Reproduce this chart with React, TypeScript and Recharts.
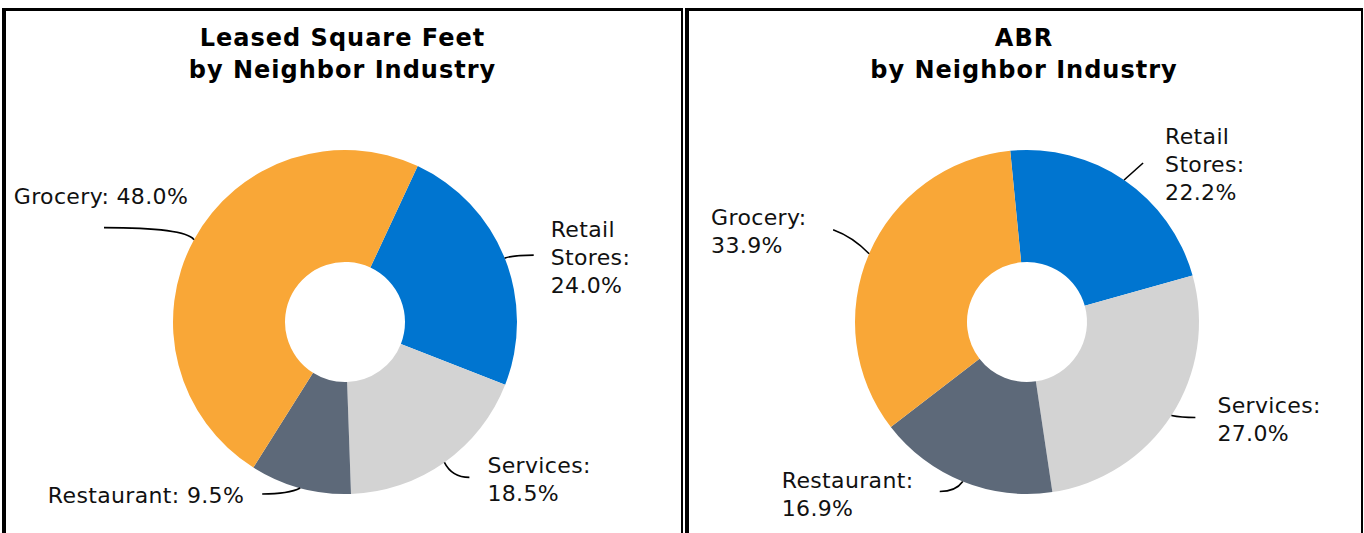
import { PieChart, Pie, Cell } from 'recharts';

// Chart data
const categories = ['Retail Stores', 'Services', 'Restaurant', 'Grocery'];
const leasedSqFtPct = [24.0, 18.5, 9.5, 48.0];
const abrPct = [22.2, 27.0, 16.9, 33.9];
const titlesLeft = ['Leased Square Feet', 'by Neighbor Industry'];
const titlesRight = ['ABR', 'by Neighbor Industry'];

const COLORS = ['#0075D0', '#D3D3D3', '#5D6979', '#F9A737'];
const RADIAN = Math.PI / 180;
const FONT = '"DejaVu Sans", Verdana, sans-serif';

type LabelLayout = {
  leader: [number, number]; // leader end, relative to slice edge
  text: [number, number]; // text block anchor, relative to leader end
  anchor: 'start' | 'middle' | 'end';
  rows: number[]; // how many tokens per text row
  bend: number; // 0.5 = straight leader
};

// label placement (best-fit positions as in the original)
const leftLayout: LabelLayout[] = [
  { leader: [29, -3], text: [17, 2], anchor: 'start', rows: [1, 1, 1], bend: 0.3 },
  { leader: [25, 15], text: [18, 2], anchor: 'start', rows: [1, 1], bend: 0.3 },
  { leader: [-38, 6], text: [-18, 1], anchor: 'end', rows: [2], bend: 0.3 },
  { leader: [-90, -12], text: [-3, -31], anchor: 'middle', rows: [2], bend: 0.1 },
];
const rightLayout: LabelLayout[] = [
  { leader: [19, -17], text: [22, 1], anchor: 'start', rows: [1, 1, 1], bend: 0.5 },
  { leader: [24, 2], text: [22, 2], anchor: 'start', rows: [1, 1], bend: 0.4 },
  { leader: [-23, 10], text: [-158, 3], anchor: 'start', rows: [1, 1], bend: 0.3 },
  { leader: [-36, -24], text: [-122, 2], anchor: 'start', rows: [1, 1], bend: 0.45 },
];

const LINE_H = 28;

function makeLabel(layout: LabelLayout[]) {
  return (props: any) => {
    const { cx, cy, midAngle, outerRadius, index, name, value } = props;
    const cfg = layout[index];
    const sx = cx + outerRadius * Math.cos(-midAngle * RADIAN);
    const sy = cy + outerRadius * Math.sin(-midAngle * RADIAN);
    const ex = sx + cfg.leader[0];
    const ey = sy + cfg.leader[1];
    const qx = sx + (ex - sx) * cfg.bend;
    const qy = cfg.bend === 0.5 ? (sy + ey) / 2 : ey - (ey - sy) * (cfg.bend > 0.4 ? 0.3 : 0);

    const words = String(name).split(' ');
    words[words.length - 1] += ':';
    const tokens = [...words, `${Number(value).toFixed(1)}%`];
    const lines: string[] = [];
    let k = 0;
    cfg.rows.forEach((n) => {
      lines.push(tokens.slice(k, k + n).join(' '));
      k += n;
    });
    if (k < tokens.length) lines[lines.length - 1] += ' ' + tokens.slice(k).join(' ');

    const tx = ex + cfg.text[0];
    const ty0 = ey + cfg.text[1] - ((lines.length - 1) * LINE_H) / 2;

    return (
      <g>
        <path d={`M${sx},${sy} Q${qx},${qy} ${ex},${ey}`} stroke="#000" strokeWidth={1.6} fill="none" />
        {lines.map((l, i) => (
          <text
            key={i}
            x={tx}
            y={ty0 + i * LINE_H}
            textAnchor={cfg.anchor}
            dominantBaseline="central"
            fontFamily={FONT}
            fontSize={22}
            letterSpacing={0.35}
            fill="#111"
          >
            {l}
          </text>
        ))}
      </g>
    );
  };
}

function Panel(props: {
  left: number;
  width: number;
  titles: string[];
  values: number[];
  layout: LabelLayout[];
  cx: number;
  startAngle: number;
}) {
  const data = categories.map((c, i) => ({ name: c, value: props.values[i] }));
  return (
    <>
      <div
        style={{
          position: 'absolute',
          left: props.left,
          top: 8,
          width: props.width,
          height: 525,
          boxSizing: 'border-box',
          borderLeft: '4px solid #000',
          borderTop: '3px solid #000',
          borderRight: '2px solid #000',
        }}
      />
      <div
        style={{
          position: 'absolute',
          left: props.left,
          top: 22,
          width: props.width,
          textAlign: 'center',
          fontFamily: FONT,
          fontWeight: 'bold',
          fontSize: 24,
          letterSpacing: 1,
          lineHeight: '32px',
          color: '#000',
        }}
      >
        {props.titles.map((t, i) => (
          <div key={i}>{t}</div>
        ))}
      </div>
      <div style={{ position: 'absolute', left: props.left, top: 0 }}>
        <PieChart width={props.width + 2} height={533} margin={{ top: 0, right: 0, bottom: 0, left: 0 }}>
          <Pie
            data={data}
            dataKey="value"
            nameKey="name"
            cx={props.cx}
            cy={322}
            innerRadius={60}
            outerRadius={172}
            startAngle={props.startAngle}
            endAngle={props.startAngle - 360}
            stroke="none"
            label={makeLabel(props.layout)}
            labelLine={false}
            isAnimationActive={false}
          >
            {data.map((d, i) => (
              <Cell key={d.name} fill={COLORS[i]} />
            ))}
          </Pie>
        </PieChart>
      </div>
    </>
  );
}

export default function App() {
  return (
    <div
      style={{
        position: 'absolute',
        left: 0,
        top: 0,
        width: 1364,
        height: 533,
        overflow: 'hidden',
        background: '#fff',
      }}
    >
      <Panel left={2} width={681} titles={titlesLeft} values={leasedSqFtPct} layout={leftLayout} cx={343} startAngle={65} />
      <Panel left={685} width={678} titles={titlesRight} values={abrPct} layout={rightLayout} cx={342} startAngle={95.6} />
    </div>
  );
}
